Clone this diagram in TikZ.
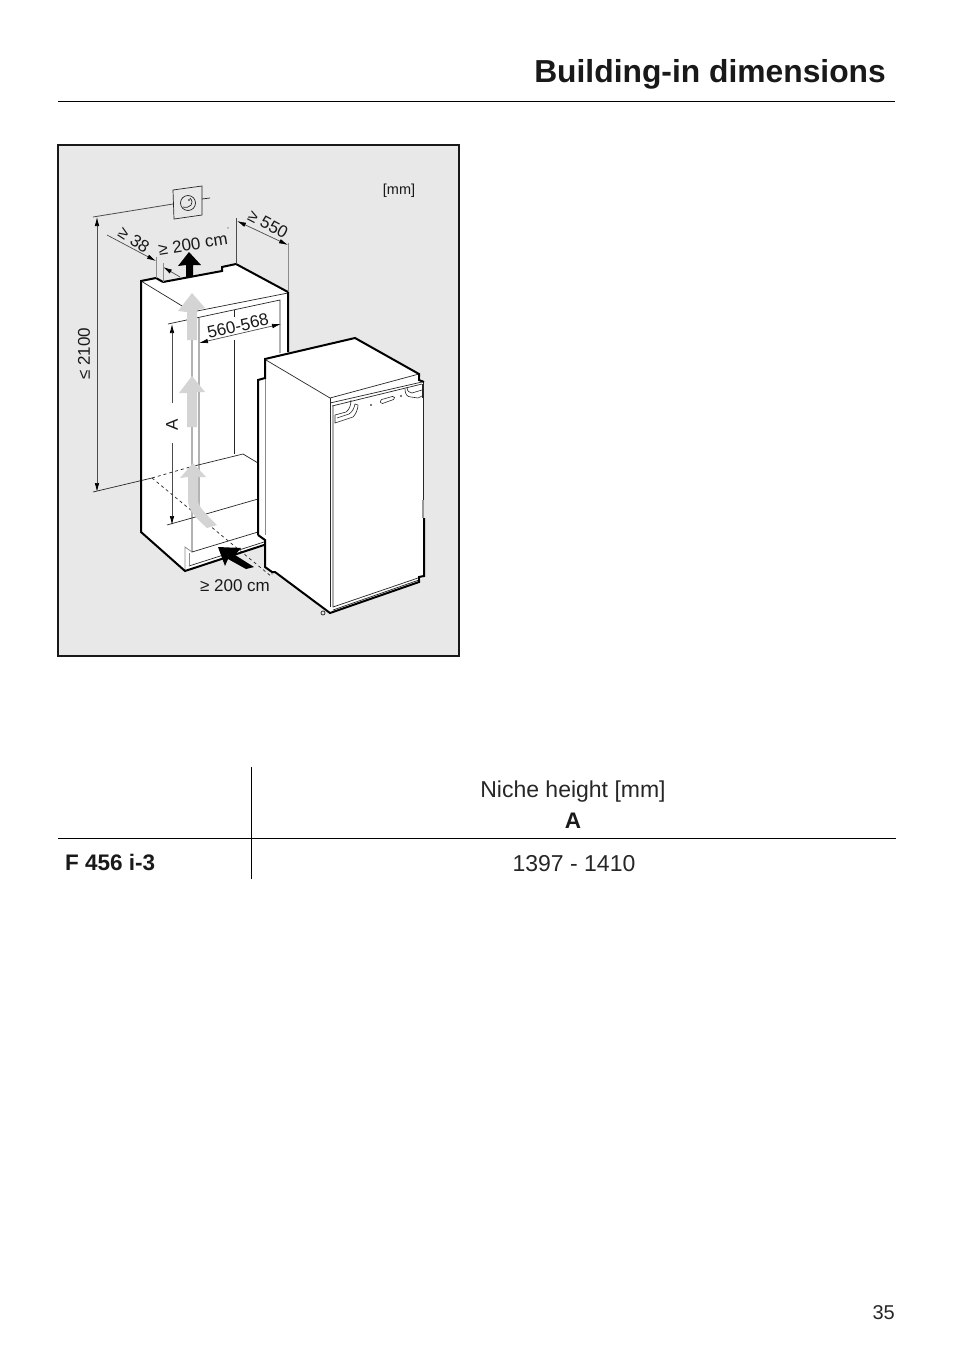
\documentclass[tikz,border=0pt]{standalone}
\usepackage{fontspec}
\setmainfont{Liberation Sans}
\usetikzlibrary{arrows.meta}
\tikzset{
    thin line/.style={line width=0.7pt,black!85},
    thick line/.style={line width=2pt,black,line join=miter},
    ext line/.style={line width=0.8pt,black!45},
    dim tip/.style={line width=0.7pt,black!70,-{Latex[length=9pt,width=4.5pt,black]}},
    dim both/.style={line width=0.7pt,black!70,{Latex[length=9pt,width=4.5pt,black]}-{Latex[length=9pt,width=4.5pt,black]}},
    air grey/.style={fill=black!17,draw=none},
    air black/.style={fill=black,draw=none},
    small label/.style={font=\fontsize{17}{17}\selectfont,inner sep=0pt,text=black!90},
    body label/.style={font=\fontsize{23}{23}\selectfont,inner sep=0pt,text=black!85},
    bold label/.style={font=\fontsize{22.5}{22.5}\selectfont\bfseries,inner sep=0pt,text=black!90}
}
\def\NicheBody{
    \fill[white] (141,281) -- (156,278) -- (163,282) -- (222,271) -- (222,267) -- (236,264)
        -- (288,292) -- (288,360) -- (264,545) -- (185,571) -- (141,532) -- cycle;
    % inner lines of the niche
    \draw[thin line] (141,281) -- (192,312) -- (288,293);
    \draw[thin line] (192,312) -- (192,552) -- (258,532);
    \draw[thin line] (199,318) -- (199,516) -- (258,499);
    \draw[thin line] (168,324) -- (280,300) -- (280,353);
    \draw[thin line] (234,310) -- (234,317);
    \draw[thin line] (234,340) -- (234,454);
    \draw[thin line] (243,454) -- (258,463);
    \draw[thin line] (167,525) -- (199,516);
    \draw[thin line] (189,566) -- (264,542);
    \draw[ext line] (185,570) -- (185,547) -- (192,552);
    \draw[ext line] (189,566) -- (189,553);
    % floor line, solid outside and dashed inside
    \draw[thin line] (93,492) -- (152,478);
    \draw[thin line,dashed] (152,478) -- (190,467);
    \draw[thin line] (190,467) -- (243,454);
    \draw[thin line,dashed] (152,478) -- (272,577);
    \draw[thick line] (156,278) -- (141,281) -- (141,532) -- (185,571) -- (264,545);
    \draw[thick line] (163,282) -- (222,271) -- (222,267) -- (236,264) -- (288,292) -- (288,352);
    \draw[thick line] (156,278) -- (163,282);
}
\def\FridgeBody{
    \fill[white] (265,359) -- (355,338) -- (419,374) -- (423,382) -- (424,576) -- (419,582)
        -- (330,613) -- (275,572) -- (265,567) -- (265,540) -- (258,535) -- (258,380) -- (265,378) -- cycle;
    \draw[thin line] (266,360) -- (330,398) -- (419,374);
    \draw[thin line] (330,398) -- (330,607);
    \draw[thin line] (330,403) -- (422,382);
    \draw[thin line] (332,406) -- (422,384);
    \draw[thin line] (333,406) -- (333,607) -- (418,578);
    \draw[thin line] (333,610) -- (419,580);
    \draw[ext line] (265,378) -- (265,535);
    \draw[thin line] (423,382) -- (423,500);
    \draw[line width=1.6pt,black!40] (423,500) -- (423,518);
    % handles and controls
    \draw[thin line,line width=0.6pt] (335,415) -- (335,423) -- (353,417) .. controls (356,414) and (358,409) .. (358,405)
        -- (355,404) .. controls (354,409) and (352,412) .. (349,414) -- (337,418);
    \draw[thin line,line width=0.6pt] (335,415) -- (346,412) .. controls (349,410) and (351,406) .. (351,400);
    \draw[thin line,line width=0.6pt] (407,387) .. controls (407,391) and (409,393) .. (412,393) -- (422,390);
    \draw[thin line,line width=0.6pt] (405,389) .. controls (405,394) and (407,397) .. (411,397) -- (418,398) -- (422,396);
    \draw[thin line,line width=0.6pt] (422,384) -- (422,398);
    \draw[thin line,line width=0.6pt,rounded corners=1.5pt] (380,400) -- (394,396) -- (395,399) -- (381,404) -- cycle;
    \fill[black!70] (371,405) circle (1.2) (401,396) circle (1.2);
    \draw[thin line] (323,613) circle (2);
    \draw[thick line] (258,535) -- (258,380) -- (265,378) -- (265,359) -- (355,338) -- (419,374) -- (419,380) -- (424,382);
    \draw[thick line] (258,535) -- (265,540) -- (265,567) -- (272,572) -- (275,572) -- (330,613) -- (419,582) -- (419,577) -- (424,576) -- (424,518);
}
\begin{document}
\begin{tikzpicture}[x=1pt,y=-1pt]
    \useasboundingbox (0,0) rectangle (954,1352);
    \fill[white] (0,0) rectangle (954,1352);

    \node[anchor=base east,inner sep=0pt,text=black!90,font=\fontsize{31.8}{32}\selectfont\bfseries] (title) at (886,82) {Building-in dimensions};
    \coordinate (ruleL) at (58,101);
    \coordinate (ruleR) at (895,101);
    \draw[line width=0.8pt] (ruleL) -- (ruleR);

    \draw[fill=black!9,line width=1.5pt,draw=black!90] (58,145) rectangle (459,656);

    \NicheBody

    % air arrows
    \path[air grey] (192,293) -- (205,308) -- (197,310) -- (197,340) -- (187,340) -- (187,312) -- (178,311) -- cycle;
    \path[air grey] (192,376) -- (205,392) -- (197,392) -- (197,427) -- (187,427) -- (187,393) -- (179,393) -- cycle;
    \path[air grey] (193,463) -- (206,477) -- (198,477) -- (198,500) .. controls (198,507) and (207,515) .. (217,525)
        -- (207,528) .. controls (196,518) and (188,510) .. (188,500) -- (188,477) -- (180,478) -- cycle;
    \path[air black] (189,252) -- (201,265) -- (193,265) -- (193,276) -- (186,277) -- (186,265) -- (178,266) -- cycle;
    \path[air black] (218,547) -- (241,548) -- (235,555) -- (254,567) -- (246,569) -- (228,559) -- (225,566) -- cycle;

    \FridgeBody

    % dial on the wall
    \draw[thin line] (173,190) -- (202,186) -- (202,215) -- (174,219) -- cycle;
    \draw[thin line] (188,203) circle (7.5);
    \draw[thin line] (183,207) .. controls (190,209) and (195,203) .. (190,198);
    \fill (189,200) circle (0.9);
    \draw[thin line] (202,199) -- (210,198);
    \draw[ext line,black!70] (93,217) -- (173,204);

    % dimensions
    \draw[dim both] (97,217) -- (97,492);
    \draw[dim tip] (107,235) -- (156,261);
    \draw[dim tip] (180,277) -- (163,267);
    \draw[ext line] (156,257) -- (156,278);
    \draw[ext line] (163,263) -- (163,282);
    \draw[ext line,black!70] (236,218) -- (236,264);
    \draw[ext line] (288,243) -- (288,292);
    \draw[dim both] (237,221) -- (288,245);
    \draw[dim both] (199,343) -- (281,324);
    \coordinate (aTop) at (172,324);
    \coordinate (aUp) at (172,403);
    \coordinate (aLow) at (172,443);
    \coordinate (aBot) at (172,525);
    \draw[dim tip] (aUp) -- (aTop);
    \draw[dim tip] (aLow) -- (aBot);

    % labels of the drawing
    \node[small label,font=\fontsize{14.5}{14.5}\selectfont] (unit) at (399,191) {[mm]};
    \node[small label,rotate=90] (height) at (84,354) {≤ 2100};
    \node[small label,rotate=-33] (depth) at (134,240) {≥ 38};
    \node[small label,rotate=9] (vent) at (193,244) {≥ 200 cm};
    \node[small label,rotate=-28] (space) at (268,224) {≥ 550};
    \node[small label,rotate=13] (width) at (238,326) {560-568};
    \node[small label,rotate=90] (niche) at (172,425) {A};
    \node[small label] (inlet) at (235,586) {≥ 200 cm};
    \node[small label,font=\fontsize{7}{7}\selectfont] (ventsup) at (228,229) {,};
    \node[small label,font=\fontsize{7}{7}\selectfont] (inletsup) at (272,575) {,};

    % table
    \draw[line width=0.8pt] (251,767) -- (251,879);
    \draw[line width=0.8pt] (58,838.5) -- (896,838.5);
    \node[body label] (head) at (573,792) {Niche height [mm]};
    \node[bold label] (colA) at (573,821) {A};
    \node[bold label,anchor=west] (model) at (65,862) {F 456 i-3};
    \node[body label] (value) at (574,864) {1397 - 1410};
    \node[body label,anchor=east,font=\fontsize{20}{20}\selectfont] (page) at (895,1313) {35};
\end{tikzpicture}
\end{document}
